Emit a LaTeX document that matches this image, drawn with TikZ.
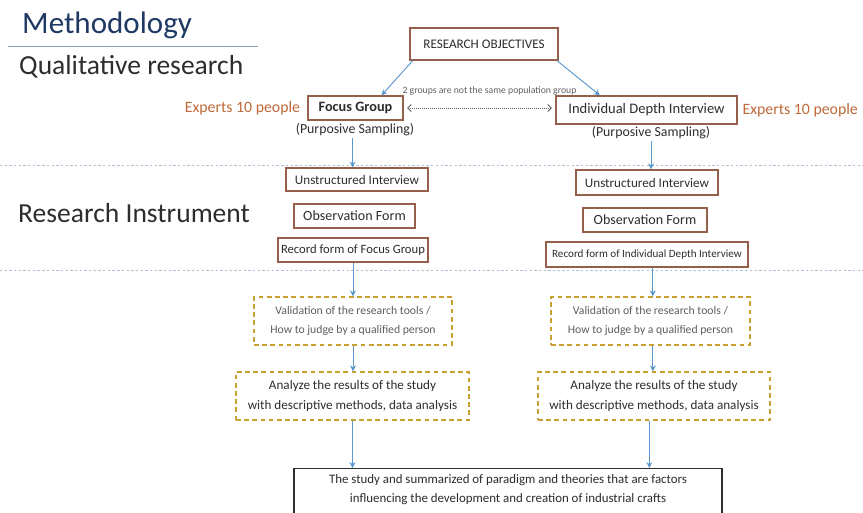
\documentclass[tikz,border=0pt]{standalone}
\usepackage{fontspec}
\setmainfont{Carlito}
\usepackage{xcolor}
\usepackage{tikz}
\usetikzlibrary{arrows.meta, positioning, calc}
\definecolor{mytitle}{RGB}{31,56,100}
\definecolor{mydark}{RGB}{45,45,45}
\definecolor{mygrey}{RGB}{95,95,95}
\definecolor{mybrown}{RGB}{150,95,75}
\definecolor{myorange}{RGB}{190,105,55}
\definecolor{myblue}{RGB}{91,150,205}
\definecolor{mygold}{RGB}{200,160,50}
\definecolor{mydiv}{RGB}{175,190,210}
\definecolor{myrule}{RGB}{140,160,180}
\tikzset{
  brownbox/.style={rectangle, draw=mybrown, fill=white, line width=1.1pt,
    align=center, inner sep=0pt, text=mydark},
  goldbox/.style={rectangle, draw=mygold, fill=white, line width=1.2pt,
    dash pattern=on 4pt off 3pt, align=center, inner sep=0pt},
  finalbox/.style={rectangle, draw=mydark, fill=white, line width=0.9pt,
    align=center, inner xsep=0pt, inner ysep=5pt, text=mydark},
  heading/.style={anchor=base west, inner sep=0pt},
  expert/.style={text=myorange, font=\fontsize{13.5}{15}\selectfont, inner sep=0pt},
  sampling/.style={text=mydark, font=\fontsize{11.8}{13}\selectfont, inner sep=1pt},
  arrow/.style={-{Stealth[length=5pt,width=5pt]}, line width=0.8pt, color=myblue},
  dblarrow/.style={{Straight Barb[length=3pt,width=6pt]}-{Straight Barb[length=3pt,width=6pt]},
    densely dotted, line width=0.7pt, color=mygrey},
  divider/.style={mydiv, line width=0.8pt, dash pattern=on 2pt off 2pt}
}

\begin{document}
\begin{tikzpicture}[x=0.03cm, y=-0.03cm]
  \useasboundingbox (0,0) rectangle (863,513);
  \clip (0,0) rectangle (863,513);

  % Headings
  \node[heading, text=mytitle, font=\fontsize{26.5}{29}\selectfont] (title) at (22,34) {Methodology};
  \draw[myrule, line width=0.9pt] (8,46.5) -- (258,46.5);
  \node[heading, text=mydark, font=\fontsize{23.5}{26}\selectfont] (qual) at (19,75) {Qualitative research};
  \node[heading, text=mydark, font=\fontsize{23.5}{26}\selectfont] (instr) at (18,223) {Research Instrument};

  % Dividers
  \draw[divider] (0,165) -- (863,165);
  \draw[divider] (0,270) -- (863,270);

  % Blocks
  \node[brownbox, minimum width=4.44cm, minimum height=0.96cm, font=\fontsize{11.2}{13}\selectfont] (obj) at (484,44) {RESEARCH OBJECTIVES};

  \node[brownbox, minimum width=2.85cm, minimum height=0.72cm, font=\fontsize{12.2}{14}\selectfont\bfseries] (fg) at (355.5,108) {Focus Group};
  \node[brownbox, minimum width=5.43cm, minimum height=0.84cm, font=\fontsize{12.4}{14}\selectfont] (idi) at (646.5,110) {Individual Depth Interview};

  \node[expert, left=6pt of fg] (expL) {Experts 10 people};
  \node[expert, right=4pt of idi] (expR) {Experts 10 people};
  \node[sampling] (psL) at (355,130) {(Purposive Sampling)};
  \node[sampling] (psR) at (651,133) {(Purposive Sampling)};

  \node[brownbox, minimum width=4.26cm, minimum height=0.69cm, font=\fontsize{11.2}{13}\selectfont] (unsL) at (357,179.5) {Unstructured Interview};
  \node[brownbox, minimum width=3.63cm, minimum height=0.72cm, font=\fontsize{12}{14}\selectfont] (obsL) at (354.5,216) {Observation Form};
  \node[brownbox, minimum width=4.5cm, minimum height=0.72cm, font=\fontsize{10.8}{12}\selectfont] (recL) at (353,250) {Record form of Focus Group};

  \node[brownbox, minimum width=4.26cm, minimum height=0.75cm, font=\fontsize{11.2}{13}\selectfont] (unsR) at (647,182.5) {Unstructured Interview};
  \node[brownbox, minimum width=3.72cm, minimum height=0.72cm, font=\fontsize{12}{14}\selectfont] (obsR) at (645,220) {Observation Form};
  \node[brownbox, minimum width=6.06cm, minimum height=0.75cm, font=\fontsize{9.5}{11}\selectfont] (recR) at (647,254.5) {Record form of Individual Depth Interview};

  \node[goldbox, minimum width=5.94cm, minimum height=1.44cm, text=mygrey, font=\fontsize{10}{16}\selectfont] (valL) at (353,321) {Validation of the research tools /\\How to judge by a qualified person};
  \node[goldbox, minimum width=5.97cm, minimum height=1.44cm, text=mygrey, font=\fontsize{10}{16}\selectfont] (valR) at (650.5,321) {Validation of the research tools /\\How to judge by a qualified person};

  \node[goldbox, minimum width=6.99cm, minimum height=1.44cm, text=mydark, font=\fontsize{11.2}{16.5}\selectfont] (anaL) at (352.5,396) {Analyze the results of the study\\with descriptive methods, data analysis};
  \node[goldbox, minimum width=6.96cm, minimum height=1.44cm, text=mydark, font=\fontsize{11.2}{16.5}\selectfont] (anaR) at (654,396) {Analyze the results of the study\\with descriptive methods, data analysis};

  \node[finalbox, anchor=north, minimum width=12.84cm, minimum height=2cm, font=\fontsize{11}{16}\selectfont] (final) at (508,468) {The study and summarized of paradigm and theories that are factors\\influencing the development and creation of industrial crafts\\[14pt]};

  % Flows
  \draw[arrow] ([xshift=0.1cm]obj.south west) -- ([xshift=0.78cm]fg.north);
  \draw[arrow] ([xshift=-0.05cm]obj.south east) -- ([xshift=-1.4cm]idi.north);
  \draw[dblarrow] ([xshift=3pt]fg.east) -- ([xshift=-3pt]fg.east -| idi.west)
    node[midway, above=11pt, xshift=0.3cm, inner sep=0pt, text=mygrey, font=\fontsize{8.3}{9}\selectfont] {2 groups are not the same population group};

  \draw[arrow] ([xshift=-2]psL.south) -- ([xshift=-2]psL.south |- unsL.north);
  \draw[arrow] (psR.south) -- (psR.south |- unsR.north);

  \draw[arrow] (recL.south) -- (recL.south |- valL.north);
  \draw[arrow] ([xshift=2]valR.north |- recR.south) -- ([xshift=2]valR.north);

  \draw[arrow] (valL.south) -- (valL.south |- anaL.north);
  \draw[arrow] ([xshift=2]valR.south) -- ([xshift=2]valR.south |- anaR.north);

  \draw[arrow] (anaL.south) -- (anaL.south |- final.north);
  \draw[arrow] ([xshift=-4]anaR.south) -- ([xshift=-4]anaR.south |- final.north);
\end{tikzpicture}
\end{document}
